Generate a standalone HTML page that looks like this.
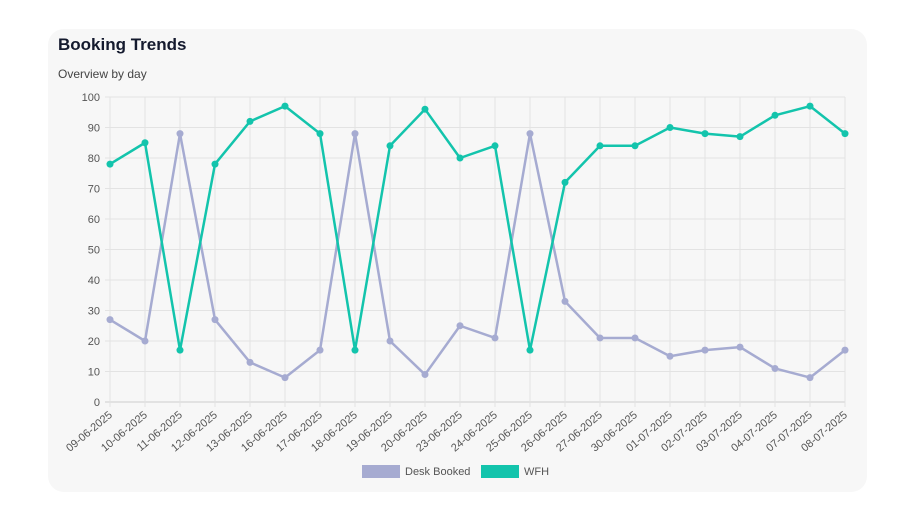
<!DOCTYPE html>
<html><head><meta charset="utf-8"><style>
body{margin:0;background:#fff;font-family:"Liberation Sans",sans-serif;}
#card{position:absolute;left:48px;top:29px;width:819px;height:463px;background:#f7f7f7;border-radius:16px;}
h1{position:absolute;left:58px;top:35px;margin:0;font-size:17px;font-weight:bold;color:#141a2e;}
#sub{position:absolute;left:58px;top:67px;font-size:12px;color:#444;}
svg{position:absolute;left:0;top:0;}
</style></head><body>
<div id="card"></div>
<h1>Booking Trends</h1>
<div id="sub">Overview by day</div>
<svg id="c" width="913" height="522"></svg>
<script>
const categories=["09-06-2025","10-06-2025","11-06-2025","12-06-2025","13-06-2025","16-06-2025","17-06-2025","18-06-2025","19-06-2025","20-06-2025","23-06-2025","24-06-2025","25-06-2025","26-06-2025","27-06-2025","30-06-2025","01-07-2025","02-07-2025","03-07-2025","04-07-2025","07-07-2025","08-07-2025"];
const deskBooked=[27,20,88,27,13,8,17,88,20,9,25,21,88,33,21,21,15,17,18,11,8,17];
const wfh=[78,85,17,78,92,97,88,17,84,96,80,84,17,72,84,84,90,88,87,94,97,88];
const yTicks=[0,10,20,30,40,50,60,70,80,90,100];
const svg=document.getElementById('c');const NS="http://www.w3.org/2000/svg";
const x0=110,x1=845,y0=402,y1=97;
const xs=i=>x0+i*(x1-x0)/(categories.length-1);
const ys=v=>y0-(v/100)*(y0-y1);
function mk(t,a){const e=document.createElementNS(NS,t);for(const k in a)e.setAttribute(k,a[k]);svg.appendChild(e);return e;}
yTicks.forEach(v=>{
 const l=mk('line',{x1:x0-5,x2:x1,y1:ys(v),y2:ys(v),stroke:v===0?'#ccc':'#e3e3e3'});
 
 
 const t=mk('text',{x:x0-10,y:ys(v)+4,'text-anchor':'end','font-size':11,fill:'#555'});t.textContent=v;
 
 
});
categories.forEach((c,i)=>{
 const l=mk('line',{x1:xs(i),x2:xs(i),y1:y1,y2:y0+5,stroke:'#e3e3e3'});
 
 
 const t=mk('text',{x:xs(i)+3,y:y0+14,'text-anchor':'end','font-size':11,fill:'#555',transform:`rotate(-40 ${xs(i)+3} ${y0+14})`});t.textContent=c;
 
 
});
function series(d,col,name){
 const p=mk('polyline',{points:d.map((v,i)=>xs(i)+','+ys(v)).join(' '),fill:'none',stroke:col,'stroke-width':2.5,'stroke-linejoin':'round'});
 
 
 d.forEach((v,i)=>{const c=mk('circle',{cx:xs(i),cy:ys(v),r:3.5,fill:col});
 
 });
}
series(deskBooked,'#a6abd1','desk-booked');
series(wfh,'#13c4ac','wfh');
const lg=[['Desk Booked','#a6abd1',362],['WFH','#13c4ac',481]];
lg.forEach(([n,col,x])=>{
 const r=mk('rect',{x:x,y:465,width:38,height:13,fill:col});
 
 
 const t=mk('text',{x:x+43,y:475,'font-size':11,fill:'#555'});t.textContent=n;
 
 
});
</script>
</body></html>
